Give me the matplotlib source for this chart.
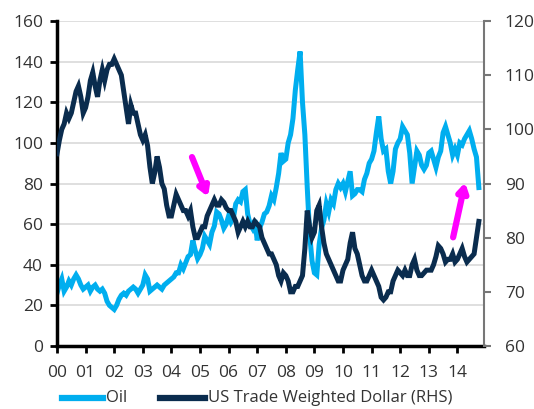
import numpy as np
import matplotlib.pyplot as plt
from matplotlib.lines import Line2D

plt.rcParams['font.family'] = ['Open Sans', 'DejaVu Sans']

# monthly values, Jan 2000 .. Oct 2014
oil = [
    26, 30, 33, 27, 29, 32, 30, 33, 35, 33, 30, 28,
    29, 30, 27, 29, 30, 28, 27, 28, 26, 22, 20, 19,
    18, 20, 23, 25, 26, 25, 27, 28, 29, 28, 26, 28,
    30, 35, 33, 27, 28, 29, 30, 29, 28, 30, 31, 32,
    33, 34, 36, 36, 40, 38, 41, 44, 45, 52, 47, 43,
    45, 48, 54, 52, 50, 56, 59, 66, 65, 62, 58, 60,
    64, 61, 63, 70, 72, 71, 76, 77, 65, 60, 58, 62,
    52, 58, 61, 65, 66, 69, 74, 72, 78, 85, 95, 91,
    92, 100, 104, 112, 126, 136, 145, 120, 104, 78, 55, 42,
    36, 35, 50, 58, 62, 70, 66, 72, 70, 77, 80, 78,
    80, 76, 81, 86, 74, 75, 77, 77, 76, 82, 85, 90,
    92, 96, 105, 113, 102, 96, 97, 86, 80, 86, 97, 100,
    102, 108, 106, 104, 95, 80, 88, 96, 94, 89, 87, 89,
    95, 96, 92, 88, 93, 96, 105, 108, 104, 100, 94, 97,
    94, 100, 99, 102, 104, 106, 102, 97, 93, 78,
]
dollar = [
    95.5, 98, 100, 101, 103, 102, 103, 105, 107, 108, 106, 103,
    104, 106, 109, 110.5, 108, 106, 109, 111, 109, 111, 112, 112,
    113, 112, 111, 110, 107, 104, 101, 104.5, 103, 103, 101, 99,
    98, 99, 97, 93, 90, 92, 95, 93, 90, 89, 86, 84,
    84, 86, 88, 87, 86, 85, 85, 84, 85, 82, 80, 80,
    81, 82, 82, 84, 85, 86, 87, 86, 86, 87, 86.5, 85.5,
    85, 85, 84, 83, 81, 82, 83, 82, 83, 82, 82, 83,
    82.5, 82, 80, 79, 78, 77, 77, 76, 75, 73, 72, 73.5,
    73, 72, 70, 70, 71, 71, 72, 73, 78, 85, 82, 80,
    81, 85, 86, 82, 79, 77, 76, 75, 74, 73, 72, 72,
    74, 75, 76, 79, 81, 78, 77, 75, 73, 72, 72, 73,
    74, 73, 72, 71, 69, 68.5, 69, 70, 70, 72, 73, 74,
    73.5, 73, 74, 73, 73, 75, 76, 74, 73, 73, 73.5, 74,
    74, 74, 75, 76.5, 78.5, 78, 77, 75.5, 76, 76, 77, 75.5,
    76, 77, 78, 76.5, 75.5, 76, 76.5, 77, 80, 83,
]
year_labels = [f"{y:02d}" for y in range(15)]
series_names = ['Oil', 'US Trade Weighted Dollar (RHS)']

x = 2000 + np.arange(len(oil)) / 12.0
oil_col = '#00AEEF'
usd_col = '#0A2C4E'
W, H = 534, 409

fig = plt.figure(figsize=(W / 100, H / 100), dpi=100)
ax = fig.add_axes([57 / W, 1 - 346 / H, (484 - 57) / W, (346 - 21) / H])
ax2 = ax.twinx()

ax.plot(x, oil, color=oil_col, lw=3.6, solid_joinstyle='miter')
ax2.plot(x, dollar, color=usd_col, lw=3.6, solid_joinstyle='miter')

ax.set_ylim(0, 160)
ax.set_yticks(range(0, 161, 20))
ax2.set_ylim(60, 120)
ax2.set_yticks(range(60, 121, 10))
ax.set_xlim(2000, 2014.93)
ax.set_xticks(range(2000, 2015))
ax.set_xticklabels(year_labels)

ax.grid(axis='y', color='#d9d9d9', lw=1.2)
ax.set_axisbelow(True)

for a in (ax, ax2):
    a.spines['top'].set_visible(False)
ax.spines['left'].set_linewidth(2.5)
ax.spines['bottom'].set_linewidth(2.5)
ax.spines['right'].set_visible(False)
ax2.spines['left'].set_visible(False)
ax2.spines['bottom'].set_visible(False)
ax2.spines['right'].set_color('#777777')
ax2.spines['right'].set_linewidth(1.5)

ax.tick_params(axis='both', labelsize=12.5, labelcolor='#333333', length=5, width=2, color='black')
ax.tick_params(axis='x', pad=9)
ax.tick_params(axis='y', pad=5)
ax2.tick_params(axis='y', labelsize=12.5, labelcolor='#333333', length=5, width=1.5,
                color='#777777', pad=10)

# pink arrows
arrow_style = dict(arrowstyle='-|>,head_length=0.5,head_width=0.3', color='#FF00FF',
                   lw=4.5, shrinkA=0, shrinkB=0)
ax.annotate('', xy=(2005.28, 73.5), xytext=(2004.72, 93), arrowprops=arrow_style)
ax.annotate('', xy=(2014.27, 80.5), xytext=(2013.85, 53.5), arrowprops=arrow_style)

# legend row under the axis
ly = 1 - 398 / H
for (x0, x1, tx), col, name in zip([(62, 103, 106), (160, 205, 208)], [oil_col, usd_col], series_names):
    fig.add_artist(Line2D([x0 / W, x1 / W], [ly, ly], color=col, lw=4.5,
                          transform=fig.transFigure))
    fig.text(tx / W, ly, name, fontsize=12, color='#333333', ha='left', va='center')

fig.savefig('out.png', dpi=100)
